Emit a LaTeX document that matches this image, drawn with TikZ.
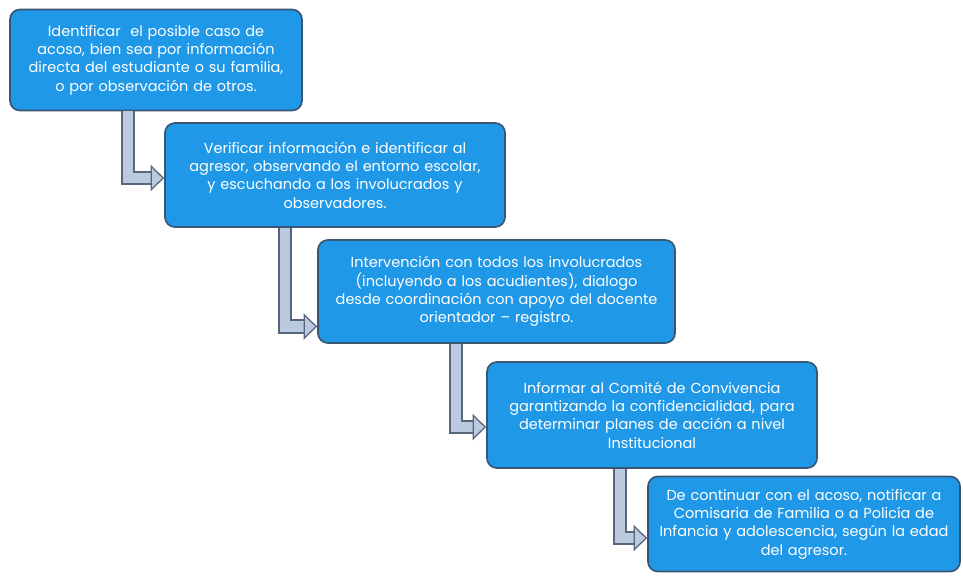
\documentclass[tikz,border=0pt]{standalone}
\usepackage{fontspec}
\setmainfont{Poppins}
\usetikzlibrary{arrows.meta}
\definecolor{boxfill}{RGB}{32,152,232}
\definecolor{boxedge}{RGB}{58,86,114}
\definecolor{pipefill}{RGB}{188,202,224}
\definecolor{pipeedge}{RGB}{88,102,124}
\begin{document}
\begin{tikzpicture}[x=0.025cm, y=-0.025cm,
  stepbox/.style={rectangle, rounded corners=0.25cm, draw=boxedge, line width=1.2pt, fill=boxfill,
    text=white, align=center, inner sep=0pt, font=\fontsize{10.3}{13}\selectfont},
  pipe out/.style={line width=0.36cm, draw=pipeedge, line join=miter, shorten >=0.3cm},
  pipe in/.style={line width=0.26cm, draw=pipefill, line join=miter, shorten >=0.3cm},
  pipe head/.style={draw=pipeedge, line width=0.9pt, -{Triangle[length=0.34cm, width=0.66cm, fill=pipefill]}}]
  \useasboundingbox (0,0) rectangle (963,575);

  \node[stepbox, minimum width=7.3cm, minimum height=2.525cm, text width=7.1cm] (b1) at (156,60)
    {Identificar\ \ el posible caso de\\ acoso, bien sea por información\\ directa del estudiante o su familia,\\ o por observación de otros.};
  \node[stepbox, minimum width=8.5cm, minimum height=2.6cm, text width=8.3cm] (b2) at (335,175)
    {Verificar información e identificar al\\ agresor, observando el entorno escolar,\\ y escuchando a los involucrados y\\ observadores.};
  \node[stepbox, minimum width=8.925cm, minimum height=2.575cm, text width=8.7cm] (b3) at (496.5,291.5)
    {Intervención con todos los involucrados\\ (incluyendo a los acudientes), dialogo\\ desde coordinación con apoyo del docente\\ orientador – registro.};
  \node[stepbox, minimum width=8.25cm, minimum height=2.65cm, text width=8.05cm] (b4) at (652,415)
    {Informar al Comité de Convivencia\\ garantizando la confidencialidad, para\\ determinar planes de acción a nivel\\ Institucional};
  \node[stepbox, minimum width=7.8cm, minimum height=2.375cm, text width=7.7cm] (b5) at (804,524)
    {De continuar con el acoso, notificar a\\ Comisaria de Familia o a Policía de\\ Infancia y adolescencia, según la edad\\ del agresor.};

  % where the pipes leave and enter
  \coordinate (s1) at ([xshift=2.975cm]b1.south west);
  \coordinate (e1) at ([yshift=-0.075cm]b2.west);
  \coordinate (s2) at ([xshift=3.025cm]b2.south west);
  \coordinate (e2) at ([yshift=-0.875cm]b3.west);
  \coordinate (s3) at ([xshift=3.475cm]b3.south west);
  \coordinate (e3) at ([yshift=-0.3cm]b4.west);
  \coordinate (s4) at ([xshift=3.35cm]b4.south west);
  \coordinate (e4) at ([yshift=-0.35cm]b5.west);

  \draw[pipe out] (s1) |- (e1);
  \draw[pipe in] (s1) |- (e1);
  \draw[pipe head] ([xshift=-0.34cm]e1) -- (e1);
  \draw[pipe out] (s2) |- (e2);
  \draw[pipe in] (s2) |- (e2);
  \draw[pipe head] ([xshift=-0.34cm]e2) -- (e2);
  \draw[pipe out] (s3) |- (e3);
  \draw[pipe in] (s3) |- (e3);
  \draw[pipe head] ([xshift=-0.34cm]e3) -- (e3);
  \draw[pipe out] (s4) |- (e4);
  \draw[pipe in] (s4) |- (e4);
  \draw[pipe head] ([xshift=-0.34cm]e4) -- (e4);
\end{tikzpicture}
\end{document}
